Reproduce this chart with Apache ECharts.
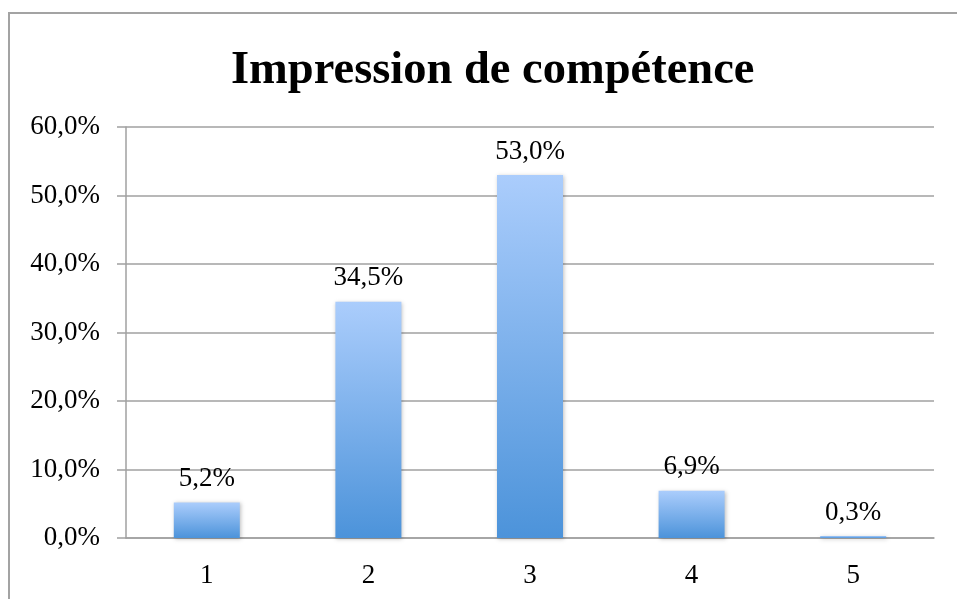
<!DOCTYPE html>
<html>
<head>
<meta charset="utf-8">
<script src="https://cdn.jsdelivr.net/npm/echarts@6/dist/echarts.min.js"></script>
<style>
  html, body { margin: 0; padding: 0; background: #fff; }
  #chart { width: 957px; height: 599px; }
</style>
</head>
<body>
<div id="chart"></div>
<script>
const titleText = 'Impression de compétence'
const categories = ['1', '2', '3', '4', '5']
const values = [5.2, 34.5, 53.0, 6.9, 0.3]
const yTicks = [0, 10, 20, 30, 40, 50, 60]

const fmt = v => v.toFixed(1).replace('.', ',') + '%'
const textFont = 'Liberation Serif'

const chart = echarts.init(document.getElementById('chart'))
chart.setOption({
  animation: false,
  backgroundColor: '#fff',
  graphic: [{
    type: 'rect',
    shape: { x: 9, y: 13, width: 1000, height: 700 },
    style: { fill: 'none', stroke: '#a3a3a3', lineWidth: 2 },
    silent: true
  }],
  title: {
    text: titleText,
    left: 226,
    top: 42,
    textStyle: {
      fontFamily: 'Liberation Serif',
      fontWeight: 'bold',
      fontSize: 46.5,
      color: '#000'
    }
  },
  grid: { left: 126, right: 23, top: 127, bottom: 61 },
  xAxis: {
    type: 'category',
    data: categories,
    axisLine: { lineStyle: { color: '#a0a0a0', width: 1.5 } },
    axisTick: { length: 9, lineStyle: { color: '#a0a0a0', width: 1.5 } },
    axisLabel: { margin: 24, fontFamily: textFont, fontSize: 27, color: '#000' }
  },
  yAxis: {
    type: 'value',
    min: yTicks[0],
    max: yTicks[yTicks.length - 1],
    interval: 10,
    axisLine: { show: true, lineStyle: { color: '#a0a0a0', width: 1.5 } },
    axisTick: { show: true, length: 9, lineStyle: { color: '#a0a0a0', width: 1.5 } },
    splitLine: { lineStyle: { color: '#a0a0a0', width: 1.5 } },
    axisLabel: {
      margin: 26,
      fontFamily: textFont,
      fontSize: 27,
      color: '#000',
      formatter: v => fmt(v)
    }
  },
  series: [{
    type: 'bar',
    data: values,
    barWidth: 66,
    itemStyle: {
      color: new echarts.graphic.LinearGradient(0, 0, 0, 1, [
        { offset: 0, color: '#abcdfc' },
        { offset: 1, color: '#4c93da' }
      ]),
      shadowColor: 'rgba(0,0,0,0.25)',
      shadowBlur: 4,
      shadowOffsetX: 1,
      shadowOffsetY: 1
    },
    label: {
      show: true,
      position: 'top',
      distance: 10,
      fontFamily: textFont,
      fontSize: 27,
      color: '#000',
      formatter: p => fmt(p.value)
    }
  }]
})
</script>
</body>
</html>
